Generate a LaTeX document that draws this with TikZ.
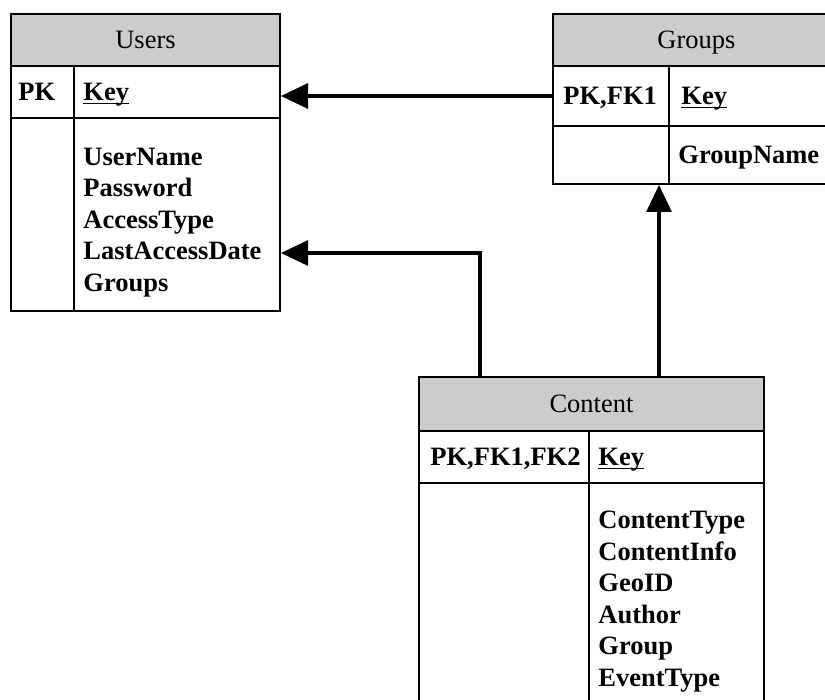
\documentclass[tikz,border=0pt]{standalone}
\usepackage{fontspec}
\setmainfont{Liberation Serif}
\usetikzlibrary{arrows.meta}
\newcommand\tabfont{\fontsize{13.25}{15.75}\selectfont}
\newcommand\keyfield[1]{\underline{\smash{#1}}}

\begin{document}
\begin{tikzpicture}[x=0.5pt,y=-0.5pt,
 cell/.style={draw,line width=1pt,anchor=north west,inner sep=0pt},
 head/.style={cell,fill=black!20,text height=8.7pt,text depth=0pt,font=\tabfont},
 word/.style={inner sep=0pt,anchor=west,text height=8.7pt,text depth=0pt,font=\tabfont\bfseries},
 list/.style={inner sep=0pt,anchor=north west,align=left,font=\tabfont\bfseries},
 fk/.style={line width=1.6pt,-{Triangle[length=13.5pt,width=12.5pt]}}]
 \useasboundingbox (0,0) rectangle (825,700);
 % Users
 \node[head,minimum width=134.5pt,minimum height=26pt] (users) at (10,13) {Users};
 \node[cell,minimum width=31.5pt,minimum height=26pt] (users-pk) at (10,65) {};
 \node[cell,minimum width=103pt,minimum height=26pt] (users-key) at (73,65) {};
 \node[cell,minimum width=31.5pt,minimum height=96.5pt] (users-fk) at (10,117) {};
 \node[cell,minimum width=103pt,minimum height=96.5pt] (users-attr) at (73,117) {};
 \node[word] (users-pk-t) at ([xshift=4pt]users-pk.west) {PK};
 \node[word] (users-key-t) at ([xshift=5pt]users-key.west) {\keyfield{Key}};
 \node[list] (users-attr-t) at ([xshift=5pt,yshift=-15.3pt]users-attr.north west)
  {UserName\\Password\\AccessType\\LastAccessDate\\Groups};
 % Groups
 \node[head,minimum width=143.5pt,minimum height=26pt] (groups) at (552,13) {Groups};
 \node[cell,minimum width=58pt,minimum height=30pt] (groups-pk) at (552,65) {};
 \node[cell,minimum width=85.5pt,minimum height=30pt] (groups-key) at (668,65) {};
 \node[cell,minimum width=58pt,minimum height=29pt] (groups-fk) at (552,125) {};
 \node[cell,minimum width=85.5pt,minimum height=29pt] (groups-attr) at (668,125) {};
 \node[word] (groups-pk-t) at ([xshift=5.5pt]groups-pk.west) {PK,FK1};
 \node[word] (groups-key-t) at ([xshift=6.5pt]groups-key.west) {\keyfield{Key}};
 \node[word] (groups-attr-t) at ([xshift=5pt]groups-attr.west) {GroupName};
 % Content
 \node[head,minimum width=172.5pt,minimum height=27pt] (content) at (418,376) {Content};
 \node[cell,minimum width=85pt,minimum height=26pt] (content-pk) at (418,430) {};
 \node[cell,minimum width=87.5pt,minimum height=26pt] (content-key) at (588,430) {};
 \node[cell,minimum width=85pt,minimum height=119pt] (content-fk) at (418,482) {};
 \node[cell,minimum width=87.5pt,minimum height=119pt] (content-attr) at (588,482) {};
 \node[word] (content-pk-t) at ([xshift=6pt]content-pk.west) {PK,FK1,FK2};
 \node[word] (content-key-t) at ([xshift=5pt]content-key.west) {\keyfield{Key}};
 \node[list] (content-attr-t) at ([xshift=5pt,yshift=-14.3pt]content-attr.north west)
  {ContentType\\ContentInfo\\GeoID\\Author\\Group\\EventType};
 % relations
 \coordinate (cu) at ([xshift=-55.75pt]content.north);
 \coordinate (cg) at ([xshift=33.75pt]content.north);
 \draw[fk] (groups-pk.west) -- (groups-pk.west -| users-key.east);
 \draw[fk] (cu) |- ([yshift=-19.25pt]users-attr.east);
 \draw[fk] (cg) -- (cg |- groups-fk.south);
\end{tikzpicture}
\end{document}
